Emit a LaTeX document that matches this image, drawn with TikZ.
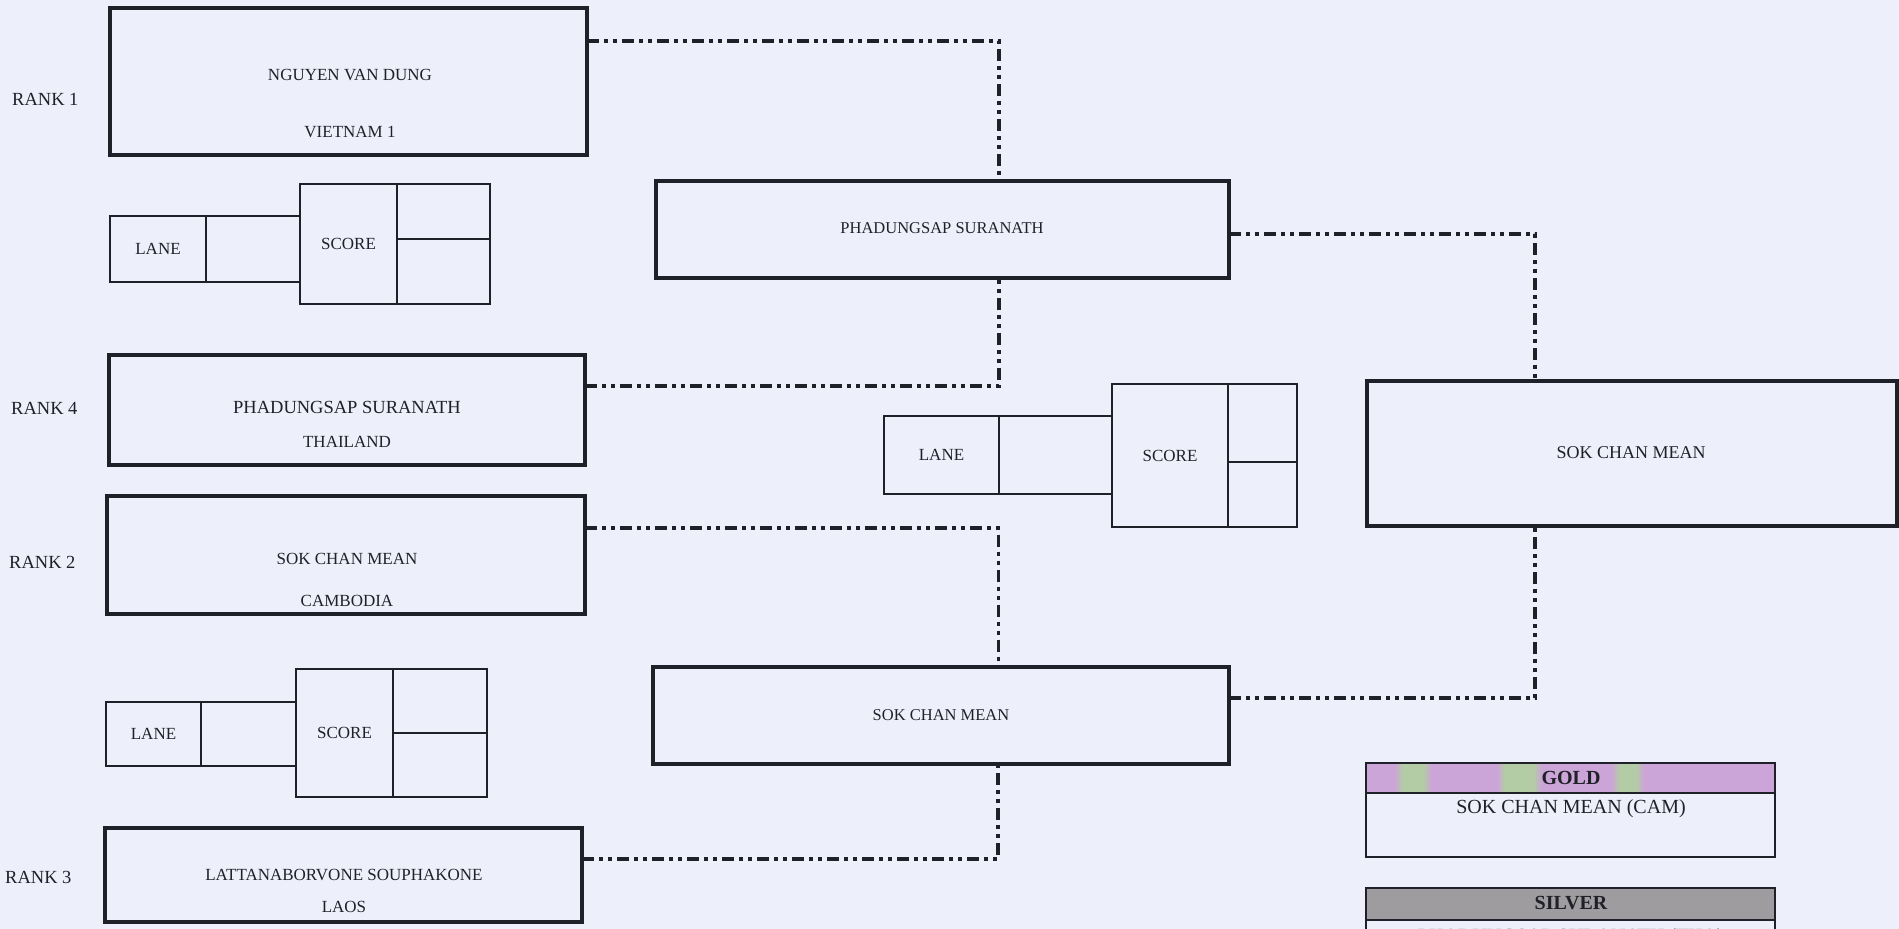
\documentclass[tikz,border=0pt]{standalone}
\usepackage{fontspec}
\setmainfont{Liberation Serif}
\definecolor{paper}{RGB}{237,240,250}
\definecolor{ink}{RGB}{32,32,40}
\definecolor{goldA}{RGB}{203,165,215}
\definecolor{goldB}{RGB}{180,204,166}
\definecolor{silv}{RGB}{158,156,158}
\pgfdeclarehorizontalshading{goldshade}{100bp}{color(0bp)=(goldA); color(25bp)=(goldA); color(28.5bp)=(goldA); color(29.5bp)=(goldB); color(32bp)=(goldB); color(33bp)=(goldA); color(41bp)=(goldA); color(42bp)=(goldB); color(45.5bp)=(goldB); color(46.5bp)=(goldA); color(55bp)=(goldA); color(56bp)=(goldB); color(58bp)=(goldB); color(59bp)=(goldA); color(75bp)=(goldA); color(100bp)=(goldA)}
\begin{document}
\begin{tikzpicture}[x=1pt,y=-1pt,
  box/.style={draw=ink, line width=3.2pt, rectangle, inner sep=0pt, outer sep=0pt},
  cell/.style={draw=ink, line width=1.8pt, rectangle, inner sep=0pt, outer sep=0pt, text=ink, font=\fontsize{17}{20}\selectfont},
  medbox/.style={draw=ink, line width=2.6pt, rectangle, inner sep=0pt, outer sep=0pt},
  conn/.style={draw=ink, line width=3.2pt, dash pattern=on 12pt off 5pt on 4pt off 5pt on 4pt off 5pt},
  txt/.style={inner sep=0pt, text=ink, font=\fontsize{17}{20}\selectfont},
  smalltxt/.style={inner sep=0pt, text=ink, font=\fontsize{16.5}{20}\selectfont},
  bigtxt/.style={inner sep=0pt, text=ink, font=\fontsize{18.5}{22}\selectfont},
  medaltxt/.style={inner sep=0pt, text=ink, font=\fontsize{20}{24}\selectfont},
  lbl/.style={inner sep=0pt, anchor=west, text=ink, font=\fontsize{18.5}{22}\selectfont}]
\fill[paper] (0,0) rectangle (1899,929);
\useasboundingbox (0,0) rectangle (1899,929);
\clip (0,0) rectangle (1899,929);

% rank labels
\node[lbl] (l1) at (12,99) {RANK 1};
\node[lbl] (l4) at (11,408) {RANK 4};
\node[lbl] (l2) at (9,562) {RANK 2};
\node[lbl] (l3) at (5,877) {RANK 3};

% first round boxes
\node[box, minimum width=477pt, minimum height=147pt] (r1) at (348.5,81.5) {};
\node[txt] (r1a) at (350,75) {NGUYEN VAN DUNG};
\node[txt] (r1b) at (350,132) {VIETNAM 1};

\node[box, minimum width=476pt, minimum height=110pt] (r4) at (347,410) {};
\node[bigtxt] (r4a) at (347,407) {PHADUNGSAP SURANATH};
\node[txt] (r4b) at (347,442) {THAILAND};

\node[box, minimum width=478pt, minimum height=118pt] (r2) at (346,555) {};
\node[txt] (r2a) at (347,559) {SOK CHAN MEAN};
\node[txt] (r2b) at (347,601) {CAMBODIA};

\node[box, minimum width=477pt, minimum height=94pt] (r3) at (343.5,875) {};
\node[txt] (r3a) at (344,875) {LATTANABORVONE SOUPHAKONE};
\node[txt] (r3b) at (344,907) {LAOS};

% lane / score group A
\node[cell, minimum width=96pt, minimum height=66pt] (laneA) at (158,249) {LANE};
\node[cell, minimum width=94pt, minimum height=66pt] (laneA2) at (253,249) {};
\node[cell, minimum width=97pt, minimum height=120pt] (scoreA) at (348.5,244) {SCORE};
\node[cell, minimum width=93pt, minimum height=55pt] (scoreA1) at (443.5,211.5) {};
\node[cell, minimum width=93pt, minimum height=65pt] (scoreA2) at (443.5,271.5) {};

% lane / score group B
\node[cell, minimum width=95pt, minimum height=64pt] (laneB) at (153.5,734) {LANE};
\node[cell, minimum width=95pt, minimum height=64pt] (laneB2) at (248.5,734) {};
\node[cell, minimum width=97pt, minimum height=128pt] (scoreB) at (344.5,733) {SCORE};
\node[cell, minimum width=94pt, minimum height=64pt] (scoreB1) at (440,701) {};
\node[cell, minimum width=94pt, minimum height=64pt] (scoreB2) at (440,765) {};

% lane / score group C
\node[cell, minimum width=115pt, minimum height=78pt] (laneC) at (941.5,455) {LANE};
\node[cell, minimum width=113pt, minimum height=78pt] (laneC2) at (1055.5,455) {};
\node[cell, minimum width=116pt, minimum height=143pt] (scoreC) at (1170,455.5) {SCORE};
\node[cell, minimum width=69pt, minimum height=78pt] (scoreC1) at (1262.5,423) {};
\node[cell, minimum width=69pt, minimum height=65pt] (scoreC2) at (1262.5,494.5) {};

% semifinal boxes
\node[box, minimum width=573pt, minimum height=97pt] (s1) at (942.5,229.5) {};
\node[smalltxt] (s1a) at (942,228) {PHADUNGSAP SURANATH};
\node[box, minimum width=576pt, minimum height=97pt] (s2) at (941,715.5) {};
\node[smalltxt] (s2a) at (941,715) {SOK CHAN MEAN};

% final box
\node[box, minimum width=530pt, minimum height=145pt] (fin) at (1632,453.5) {};
\node[bigtxt, font=\fontsize{18}{22}\selectfont] (fina) at (1631,453) {SOK CHAN MEAN};

% medal boxes
\node[medbox, shading=goldshade, minimum width=409pt, minimum height=30pt] (goldh) at (1570.5,778) {};
\node[medaltxt, font=\bfseries\fontsize{20}{24}\selectfont] (goldt) at (1571,778) {GOLD};
\node[medbox, minimum width=409pt, minimum height=64pt] (goldb) at (1570.5,825) {};
\node[medaltxt] (goldn) at (1571,809) {SOK CHAN MEAN (CAM)};

\node[medbox, fill=silv, minimum width=409pt, minimum height=32pt] (silvh) at (1570.5,904) {};
\node[medaltxt, font=\bfseries\fontsize{20}{24}\selectfont] (silvt) at (1571,903) {SILVER};
\node[medbox, minimum width=409pt, minimum height=60pt] (silvb) at (1570.5,950) {};
\node[medaltxt] (silvn) at (1571,938) {PHADUNGSAP SURANATH (THA)};

% connectors
\draw[conn] ([yshift=40.5pt]r1.east) -| ([xshift=56.5pt]s1.north);
\draw[conn] ([yshift=24pt]r4.east) -| ([xshift=56.5pt]s1.south);
\draw[conn] ([yshift=27pt]r2.east) -| ([xshift=57.5pt]s2.north);
\draw[conn] ([yshift=16pt]r3.east) -| ([xshift=57pt]s2.south);
\draw[conn] ([yshift=-4.5pt]s1.east) -| ([xshift=-97pt]fin.north);
\draw[conn] ([yshift=17.5pt]s2.east) -| ([xshift=-97pt]fin.south);
\end{tikzpicture}
\end{document}
